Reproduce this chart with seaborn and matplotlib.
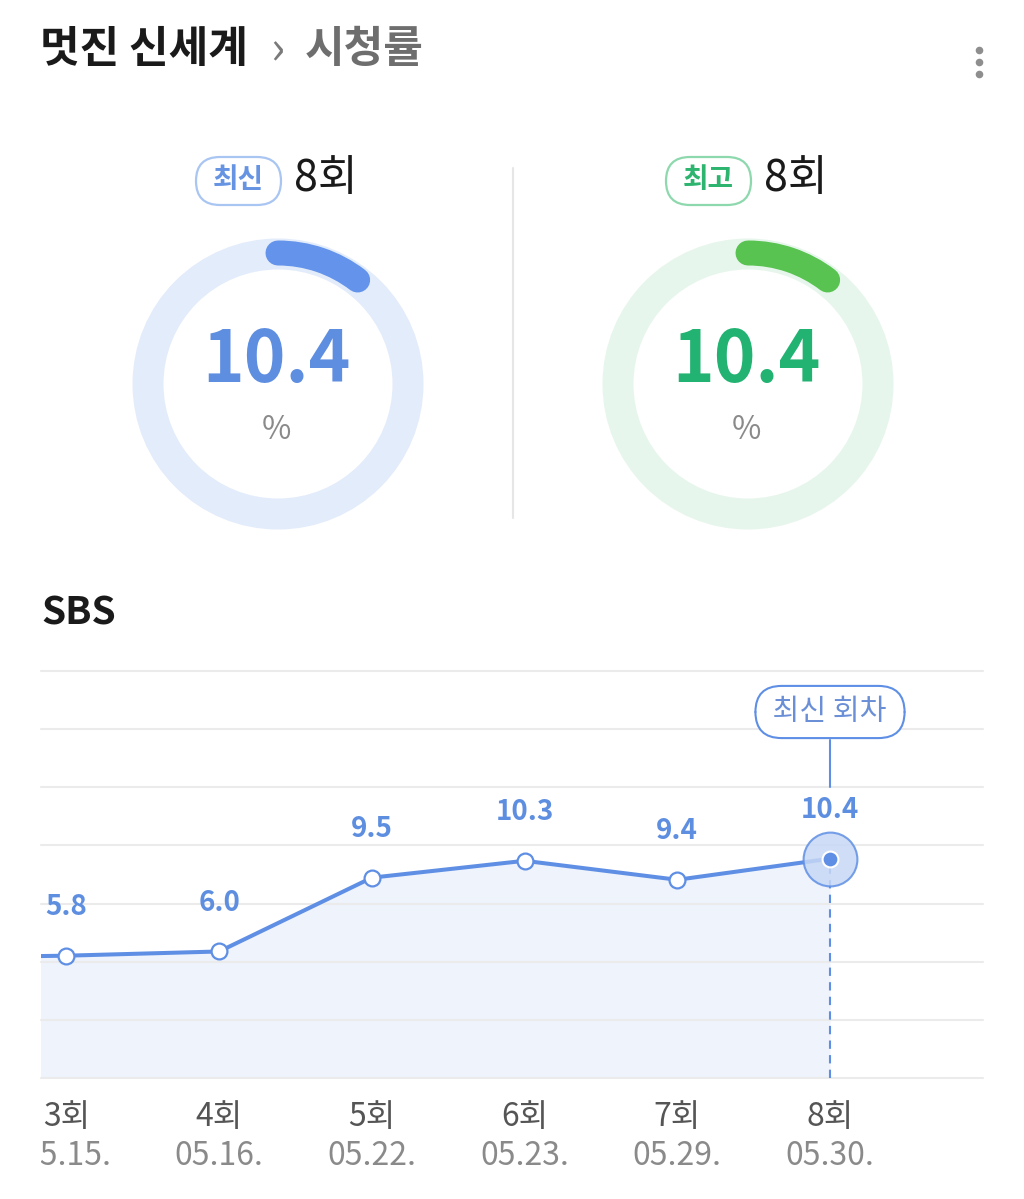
import numpy as np
import pandas as pd
import matplotlib
matplotlib.use("Agg")
import matplotlib.pyplot as plt
import seaborn as sns
from matplotlib.patches import Arc, Circle, FancyBboxPatch
from matplotlib.transforms import Bbox, TransformedBbox, blended_transform_factory

# ──────────────────────────────────────────────────────────────────────
# Data
# ──────────────────────────────────────────────────────────────────────

episodes = ["2회", "3회", "4회", "5회", "6회", "7회", "8회"]
air_dates = ["05.10.", "05.15.", "05.16.", "05.22.", "05.23.", "05.29.", "05.30."]
ratings = [5.7, 5.8, 6.0, 9.5, 10.3, 9.4, 10.4]

show_title = "멋진 신세계"
page_title = "시청률"
network = "SBS"

gauge_tags = ["최신", "최고"]
gauge_episodes = ["8회", "8회"]
gauge_values = [10.4, 10.4]

# ──────────────────────────────────────────────────────────────────────
# Style
# ──────────────────────────────────────────────────────────────────────

BLUE = "#5F8FE4"
BLUE_TEXT = "#5E8EE0"
GREEN = "#58C350"
GREEN_TEXT = "#22B271"
GAUGE_STYLES = [
    {"ring": "#E3ECFA", "arc": "#6393EA", "num": BLUE_TEXT, "tag_edge": "#A9C5F2", "tag_text": "#6794E2"},
    {"ring": "#E7F6EC", "arc": GREEN, "num": GREEN_TEXT, "tag_edge": "#8ED8AE", "tag_text": "#2DB46E"},
]

sns.set_theme(style="white")
plt.rcParams["font.family"] = ["Noto Sans CJK KR", "DejaVu Sans"]
plt.rcParams["axes.unicode_minus"] = False

W, H = 1024, 1199
fig = plt.figure(figsize=(W / 100, H / 100), dpi=100, facecolor="white")

# background axes in pixel coordinates for the header and gauges
bg = fig.add_axes([0, 0, 1, 1])
bg.set_xlim(0, W)
bg.set_ylim(H, 0)
bg.axis("off")

# header
bg.text(40, 49, show_title, va="center", ha="left", fontsize=31, fontweight="bold", color="#1A1A1A")
bg.text(277, 51, "›", va="center", ha="center", fontsize=34, color="#7A7A7A")
bg.text(305, 49, page_title, va="center", ha="left", fontsize=31, fontweight="bold", color="#6E6E6E")
bg.scatter([979, 979, 979], [50, 62, 74], s=30, color="#8E8E8E", linewidths=0)

# gauges
centers = [278, 748]
for cx, tag, ep, val, st in zip(centers, gauge_tags, gauge_episodes, gauge_values, GAUGE_STYLES):
    cy = 384
    bg.add_patch(Circle((cx, cy), 130, fill=False, lw=31 * 0.72, ec=st["ring"]))
    sweep = 360 * val / 100
    bg.add_patch(Arc((cx, cy), 262, 262, theta1=270, theta2=270 + sweep,
                     lw=25 * 0.72, color=st["arc"], capstyle="round"))
    bg.text(cx - 2, 361, f"{val:.1f}", ha="center", va="center", fontsize=51,
            fontweight="bold", color=st["num"])
    bg.text(cx - 2, 430, "%", ha="center", va="center", fontsize=23, color="#8A8A8A")

    # tag badge + episode
    bx = cx - 82
    bg.add_patch(FancyBboxPatch((bx, 157), 85, 48, boxstyle="round,pad=0,rounding_size=24",
                                fc="white", ec=st["tag_edge"], lw=1.6))
    bg.text(bx + 42.5, 180, tag, ha="center", va="center", fontsize=20,
            fontweight="bold", color=st["tag_text"])
    bg.text(bx + 98, 179, ep, ha="left", va="center", fontsize=31, color="#1A1A1A")

bg.plot([513, 513], [168, 518], color="#E6E6E6", lw=1.5)
bg.text(41, 613, network, ha="left", va="center", fontsize=28, fontweight="bold", color="#1A1A1A")

# ──────────────────────────────────────────────────────────────────────
# Line chart
# ──────────────────────────────────────────────────────────────────────

bottom_px, top_px = 1078, 671
left_px, right_px = 41, 983
ax = fig.add_axes([left_px / W, (H - bottom_px) / H, (right_px - left_px) / W, (bottom_px - top_px) / H])
ax.set_facecolor("none")

df = pd.DataFrame({"idx": np.arange(len(episodes)), "rating": ratings,
                   "episode": episodes, "date": air_dates})
last = len(df) - 1

ymax = 19.3
ax.fill_between(df["idx"], df["rating"], 0, color="#EEF3FC", lw=0, zorder=0.4)
sns.lineplot(data=df, x="idx", y="rating", ax=ax, color=BLUE, lw=2.9, zorder=2)
sns.scatterplot(data=df.iloc[:last], x="idx", y="rating", ax=ax, s=130,
                color="white", edgecolor=BLUE, linewidth=1.6, zorder=3)

# highlighted latest point
latest = df.iloc[last]
ax.plot([latest["idx"], latest["idx"]], [0, latest["rating"]], color=BLUE,
        lw=1.5, ls=(0, (4, 3)), zorder=1.8)
ax.scatter([latest["idx"]], [latest["rating"]], s=1500, color="#C7D8F5", alpha=0.85,
           edgecolor=BLUE, linewidth=1.5, zorder=3)
ax.scatter([latest["idx"]], [latest["rating"]], s=130, color=BLUE,
           edgecolor="white", linewidth=1.5, zorder=4)

# value labels (points visible in the scrolled view)
visible = df.iloc[1:]
for _, row in visible.iterrows():
    ax.annotate(f"{row['rating']:.1f}", (row["idx"], row["rating"]), xytext=(0, 35),
                textcoords="offset points", ha="center", va="center", fontsize=20,
                fontweight="bold", color=BLUE_TEXT, zorder=5)

# "최신 회차" badge
blend = blended_transform_factory(ax.transData, ax.transAxes)
ax.axvline(latest["idx"], ymin=(bottom_px - 787) / (bottom_px - top_px),
           ymax=(bottom_px - 740) / (bottom_px - top_px), color=BLUE, lw=1.5)
ax.text(latest["idx"], (bottom_px - 712) / (bottom_px - top_px), " 최신 회차 ", transform=blend,
        ha="center", va="center", fontsize=21, color="#6A8FD6", zorder=6,
        bbox=dict(boxstyle="round,pad=0.38,rounding_size=0.9", fc="white", ec=BLUE, lw=1.5))

# x labels (clipped on the left like the scrolled view)
clip = TransformedBbox(Bbox([[left_px / W, 0], [1, 1]]), fig.transFigure)
for _, row in visible.iterrows():
    for label, yy, col, fs in [(row["episode"], 1117, "#555555", 23),
                               (row["date"], 1156, "#8A8A8A", 23)]:
        t = ax.text(row["idx"], (bottom_px - yy) / (bottom_px - top_px), label, transform=blend,
                    ha="center", va="center", fontsize=fs, color=col, clip_on=True)
        t.set_clip_path(None)
        t.set_clip_box(clip)

x0 = 1 - (66.5 - left_px) / 152.7
x1 = 1 + (right_px - 66.5) / 152.7
ax.set_xlim(x0, x1)
ax.set_ylim(0, ymax)
ax.set_yticks(np.linspace(0, ymax, 8))
ax.set_xticks([])
ax.set_yticklabels([])
ax.tick_params(length=0)
ax.set_axisbelow(True)
ax.grid(axis="y", color="#EBEBEB", lw=1.5)
for gl in ax.get_ygridlines():
    gl.set_clip_on(False)
ax.set_xlabel("")
ax.set_ylabel("")
sns.despine(ax=ax, left=True, bottom=True)

fig.savefig("out.png", dpi=100, facecolor="white")
